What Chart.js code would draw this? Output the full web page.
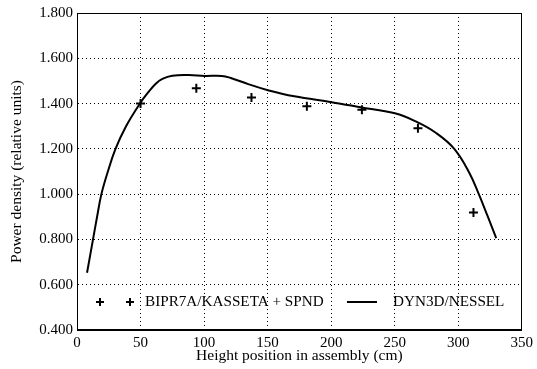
<!DOCTYPE html>
<html>
<head>
<meta charset="utf-8">
<script src="https://cdn.jsdelivr.net/npm/chart.js"></script>
<style>
  html, body { margin: 0; padding: 0; background: #fff; }
  #wrap { width: 537px; height: 369px; }
</style>
</head>
<body>
<div id="wrap"><canvas id="powerPlot" width="537" height="369"></canvas></div>
<script>
// measured points (BIPR7A/KASSETA + SPND)
const measHeight = [50, 93.9, 137.3, 180.9, 224.2, 268.3, 312];
const measPower = [1.40, 1.468, 1.427, 1.388, 1.373, 1.291, 0.919];

// calculated curve (DYN3D/NESSEL)
const calcHeight = [7.9, 12.6, 15.8, 19.2, 24.3, 30.3, 38.6, 49.5, 56.8, 62, 67.2, 75, 88, 100.4, 113.9, 121, 134.7, 150.2, 171, 200.3, 222.9, 250.2, 267, 282.6, 296.9, 308.6, 316.2, 323, 329.9];
const calcPower = [0.653, 0.80, 0.90, 1.00, 1.10, 1.20, 1.30, 1.40, 1.455, 1.488, 1.509, 1.523, 1.526, 1.522, 1.522, 1.513, 1.486, 1.459, 1.432, 1.406, 1.384, 1.357, 1.320, 1.270, 1.20, 1.096, 1.00, 0.905, 0.806];

const yTickLabels = ["0.400", "0.600", "0.800", "1.000", "1.200", "1.400", "1.600", "1.800"];
const xTickLabels = ["0", "50", "100", "150", "200", "250", "300", "350"];

const measLabel = "BIPR7A/KASSETA + SPND";
const calcLabel = "DYN3D/NESSEL";

const FONT = "'Liberation Serif', 'Times New Roman', serif";

function toXY(xs, ys) {
    return xs.map((x, i) => ({ x: x, y: ys[i] }));
}

// box around the plot + gnuplot style key inside the plot
const framePlugin = {
    id: "frame",
    afterDraw(chart) {
        const ctx = chart.ctx;
        const a = chart.chartArea;
        ctx.save();
        ctx.strokeStyle = "#000";
        ctx.lineWidth = 1;
        ctx.strokeRect(Math.round(a.left) + 0.5, Math.round(a.top) + 0.5,
            Math.round(a.right - a.left) - 1, Math.round(a.bottom - a.top) - 1);

        // key
        const ky = a.bottom - 28;
        ctx.lineWidth = 2;
        [a.left + 23, a.left + 53].forEach(cx => {
            ctx.beginPath();
            ctx.moveTo(cx - 4, ky); ctx.lineTo(cx + 4, ky);
            ctx.moveTo(cx, ky - 4); ctx.lineTo(cx, ky + 4);
            ctx.stroke();
        });
        ctx.beginPath();
        ctx.moveTo(a.left + 270, ky); ctx.lineTo(a.left + 300, ky);
        ctx.stroke();
        ctx.fillStyle = "#000";
        ctx.font = "15.2px " + FONT;
        ctx.textBaseline = "middle";
        ctx.textAlign = "left";
        ctx.fillText(measLabel, a.left + 68, ky);
        ctx.fillText(calcLabel, a.left + 316, ky);
        ctx.restore();
    }
};

const ctx = document.getElementById("powerPlot").getContext("2d");

new Chart(ctx, {
    type: "line",
    data: {
        datasets: [{
            label: measLabel,
            data: toXY(measHeight, measPower),
            showLine: false,
            pointStyle: "cross",
            pointRadius: 4.5,
            pointBorderWidth: 2,
            borderColor: "#000",
            backgroundColor: "#000"
        }, {
            label: calcLabel,
            data: toXY(calcHeight, calcPower),
            borderColor: "#000",
            borderWidth: 2,
            pointRadius: 0,
            tension: 0.4,
            fill: false
        }]
    },
    plugins: [framePlugin],
    options: {
        responsive: false,
        animation: false,
        layout: { padding: { top: 8, right: 10, left: 0, bottom: 0 } },
        plugins: {
            legend: { display: false },
            tooltip: { enabled: false }
        },
        scales: {
            x: {
                type: "linear",
                min: 0,
                max: 350,
                afterBuildTicks: s => { s.ticks = xTickLabels.map(v => ({ value: +v })); },
                afterFit: s => { s.height = 39; },
                ticks: {
                    color: "#000",
                    font: { family: FONT, size: 15 },
                    padding: 4,
                    maxRotation: 0,
                    callback: (v, i) => xTickLabels[i]
                },
                grid: {
                    color: "#000",
                    lineWidth: 1,
                    drawTicks: false
                },
                border: { display: true, color: "#000", dash: [1, 3] },
                title: {
                    display: true,
                    text: "Height position in assembly (cm)",
                    color: "#000",
                    font: { family: FONT, size: 15.5 },
                    padding: { top: 0, bottom: 4 }
                }
            },
            y: {
                type: "linear",
                min: 0.4,
                max: 1.8,
                afterBuildTicks: s => { s.ticks = yTickLabels.map(v => ({ value: +v })); },
                afterFit: s => { s.width = 77; },
                ticks: {
                    color: "#000",
                    font: { family: FONT, size: 15 },
                    padding: 4,
                    callback: (v, i) => yTickLabels[i]
                },
                grid: {
                    color: "#000",
                    lineWidth: 1,
                    drawTicks: false
                },
                border: { display: true, color: "#000", dash: [1, 3] },
                title: {
                    display: true,
                    text: "Power density (relative units)",
                    color: "#000",
                    font: { family: FONT, size: 15.5 },
                    padding: { top: 8, bottom: 0 }
                }
            }
        }
    }
});
</script>
</body>
</html>
